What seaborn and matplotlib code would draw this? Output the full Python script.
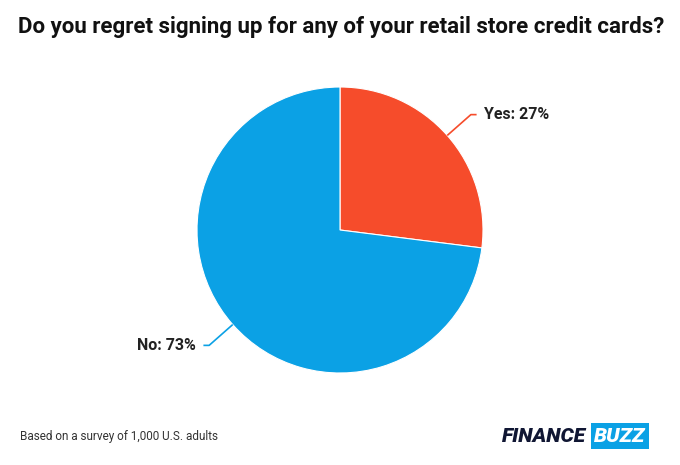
import numpy as np
import matplotlib
matplotlib.use("Agg")
import matplotlib.pyplot as plt
import seaborn as sns

# Survey answers
answers = ["Yes", "No"]
shares = [27, 73]
colors = ["#F64C2B", "#0BA1E5"]

sns.set_theme(style="white")
plt.rcParams["font.family"] = ["Roboto", "DejaVu Sans"]

fig = plt.figure(figsize=(6.8, 4.65), dpi=100)
fig.patch.set_facecolor("white")

# pie centred at (340, 230) px, radius about 143 px
W, H = 680, 465
r_px = 143
ax = fig.add_axes([(340 - r_px) / W, 1 - (230 + r_px) / H, 2 * r_px / W, 2 * r_px / H])

wedges, _ = ax.pie(shares, colors=colors, startangle=90, counterclock=False,
                   wedgeprops=dict(edgecolor="white", linewidth=0.8))
ax.set_xlim(-1, 1)
ax.set_ylim(-1, 1)
ax.set_aspect("equal")
ax.axis("off")

# leader lines and labels
for w, name, val in zip(wedges, answers, shares):
    mid = np.deg2rad((w.theta1 + w.theta2) / 2)
    cx, cy = np.cos(mid), np.sin(mid)
    side = np.sign(cx)
    ex, ey = 1.0 * cx, 1.0 * cy
    kx, ky = 1.22 * cx, 1.22 * cy
    hx = kx + side * 0.04
    ax.plot([ex, kx, hx], [ey, ky, ky], color=w.get_facecolor(), lw=1.2,
            clip_on=False, solid_capstyle="butt")
    ax.text(hx + side * 0.05, ky, f"{name}: {val}%", ha="left" if side > 0 else "right",
            va="center", fontsize=11.5, fontweight="bold", color="#222222")

fig.text(341 / W, 1 - 27 / H, "Do you regret signing up for any of your retail store credit cards?",
         ha="center", va="center", fontsize=16, fontweight="bold", color="#111111")

fig.text(20 / W, 1 - 436 / H, "Based on a survey of 1,000 U.S. adults",
         ha="left", va="center", fontsize=8.5, color="#333333")

# logo
fig.text(586 / W, 1 - 436 / H, "FINANCE", ha="right", va="center", fontsize=15,
         fontweight="black", style="italic", color="#101633")
fig.text(594 / W, 1 - 436 / H, "BUZZ", ha="left", va="center", fontsize=15,
         fontweight="black", style="italic", color="white",
         bbox=dict(boxstyle="square,pad=0.15", fc="#0BA1E5", ec="none"))

fig.savefig("out.png", dpi=100, facecolor="white")
